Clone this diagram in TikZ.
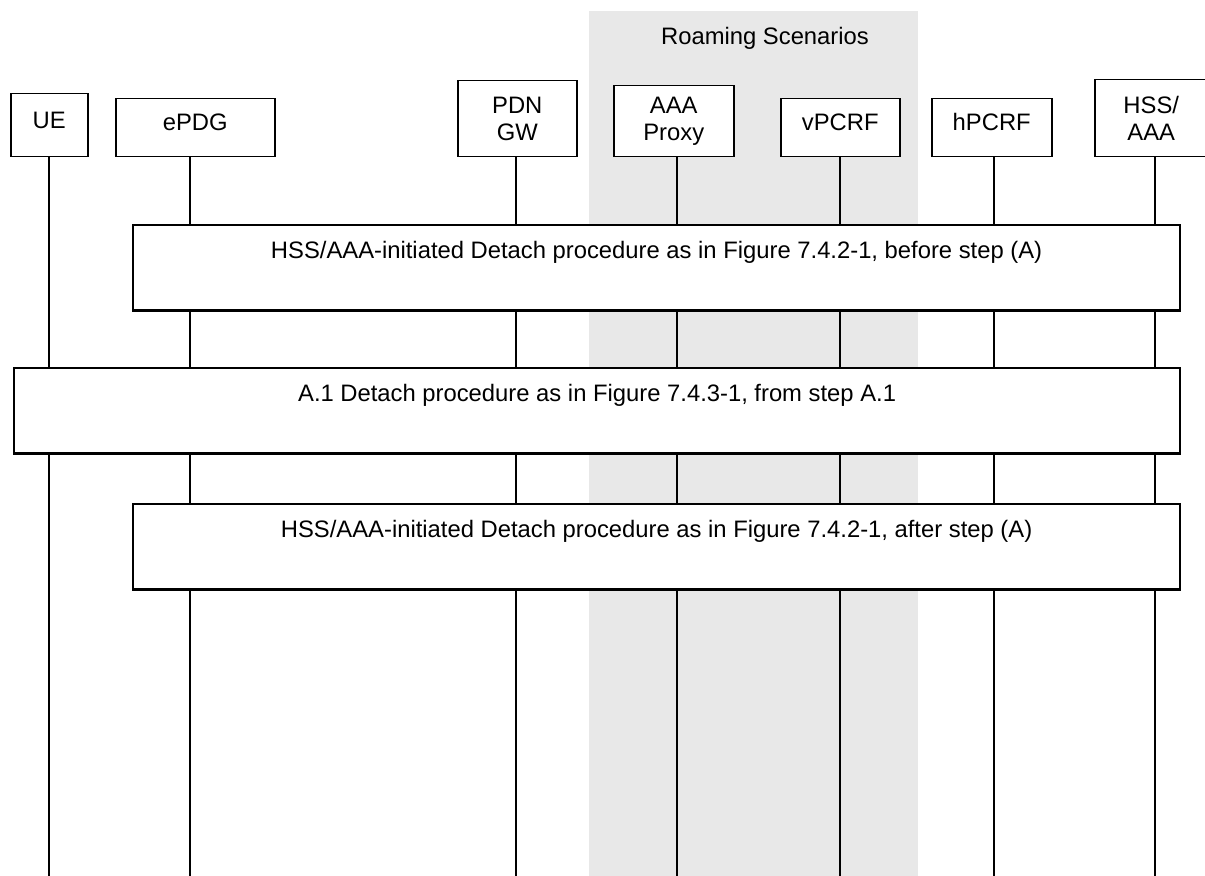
\documentclass[tikz,border=0pt]{standalone}
\usepackage{fontspec}
\setmainfont{Liberation Sans}
\usepackage{xcolor}
\usepackage{tikz}
\usetikzlibrary{positioning}
\definecolor{sqRoam}{HTML}{E8E8E8}
\definecolor{sqInk}{HTML}{000000}
\tikzset{
  sq diagram/.style={x=0.5pt, y=-0.5pt, text=sqInk,
    font=\fontsize{11.9}{13.5}\selectfont},
  sq entity/.style={draw=sqInk, fill=white, line width=0.75pt,
    inner sep=0pt, align=center, anchor=north west},
  sq single/.style={sq entity, text height=8.5pt, text depth=5.6pt},
  sq proc/.style={draw=sqInk, fill=white, line width=1.1pt,
    inner sep=0pt, anchor=north west, text height=16.7pt, text depth=26pt},
  sq life/.style={draw=sqInk, line width=0.85pt},
  sq area/.style={fill=sqRoam}
}

\begin{document}
\begin{tikzpicture}[sq diagram]
\useasboundingbox (0,0) rectangle (1205,876);
\clip (0,0) rectangle (1205,876);
% roaming part
\fill[sq area] (589,11) rectangle (918,876);
\node (roam) at (765,38) {Roaming Scenarios};
% entities
\node[sq single, minimum width=38.5pt, minimum height=31.5pt] (ue) at (10,93) {UE};
\node[sq single, minimum width=79.5pt, minimum height=29pt] (epdg) at (115,98) {ePDG};
\node[sq entity, minimum width=59.5pt, minimum height=38pt] (pdngw) at (457,80) {PDN\\GW};
\node[sq entity, minimum width=60pt, minimum height=35.5pt] (aaaproxy) at (613,85) {AAA\\Proxy};
\node[sq single, minimum width=59.5pt, minimum height=29pt] (vpcrf) at (780,98) {vPCRF};
\node[sq single, minimum width=60pt, minimum height=29pt] (hpcrf) at (931,98) {hPCRF};
\node[sq entity, minimum width=56.5pt, minimum height=38.5pt] (hssaaa) at (1094,79) {HSS/\\AAA};
\coordinate (bottom) at (0,876);
% lifelines
\foreach \n/\dx in {ue/0,epdg/-5.5,pdngw/-1.5,aaaproxy/3,vpcrf/0,hpcrf/2.5,hssaaa/4}
  \draw[sq life] ([xshift=\dx*0.5pt]\n.south) -- ([xshift=\dx*0.5pt]\n.south |- bottom);
% procedures
\node[sq proc, minimum width=523.5pt] (before) at (132,224)
  {HSS/AAA-initiated Detach procedure as in Figure 7.4.2-1, before step (A)};
\node[sq proc, minimum width=583pt] (detach) at (13,367)
  {A.1 Detach procedure as in Figure 7.4.3-1, from step A.1};
\node[sq proc, minimum width=523.5pt] (after) at (132,503)
  {HSS/AAA-initiated Detach procedure as in Figure 7.4.2-1, after step (A)};
\end{tikzpicture}
\end{document}
